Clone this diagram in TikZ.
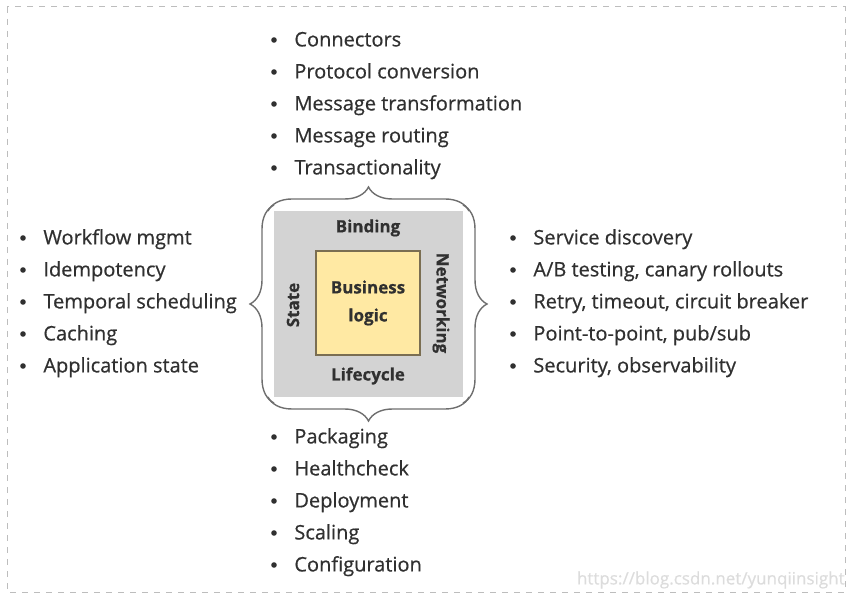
\documentclass[tikz,border=0pt]{standalone}
\usepackage{fontspec}
\setmainfont{Open Sans}[RawFeature={embolden=0.6}]
\usetikzlibrary{decorations.pathreplacing}

\definecolor{txtgray}{HTML}{303030}
\definecolor{bracegray}{HTML}{6E6E6E}
\definecolor{layergray}{HTML}{D3D3D3}
\definecolor{logicyellow}{HTML}{FFE9A3}
\definecolor{logicedge}{HTML}{7A6E52}
\definecolor{framegray}{HTML}{BDBDBD}
\definecolor{markgray}{HTML}{DCDCDC}

\tikzset{
  listitem/.style={anchor=west, inner sep=0pt, text=txtgray,
    font=\fontsize{10}{12}\selectfont, text height=1.5ex, text depth=.3ex},
  bulletmark/.style={circle, fill=txtgray, inner sep=0pt, minimum size=2.8pt},
  layerlabel/.style={inner sep=0pt, text=txtgray, font=\bfseries\fontsize{8.5}{10}\selectfont},
  bracket/.style={draw=bracegray, line width=0.7pt, decorate,
    decoration={brace, amplitude=12pt}},
}

\begin{document}
\begin{tikzpicture}[x=0.5pt,y=-0.5pt]
\useasboundingbox (0,0) rectangle (854,603);
\draw[framegray, dashed, line width=0.5pt] (7,7) rectangle (845,592);

% layers
\fill[layergray] (274,211) rectangle (463,397);
\node[draw=logicedge, fill=logicyellow, line width=0.6pt, minimum width=52pt,
  minimum height=52pt, inner sep=0pt] (logic) at (368,303) {};
\node[layerlabel, align=center] (logictxt) at (logic.center)
  {Business\\[4pt]logic};
\node[layerlabel] (binding) at (368,228) {Binding};
\node[layerlabel] (lifecycle) at (368,376) {Lifecycle};
\node[layerlabel, rotate=90] (state) at (293,305) {State};
\node[layerlabel, rotate=-90] (networking) at (441,303) {Networking};

% braces
\draw[bracket] (268,211) -- (469,211);
\draw[bracket] (274,403) -- (274,205);
\draw[bracket] (463,205) -- (463,403);
\draw[bracket] (469,397) -- (268,397);

% lists
\foreach \txt [count=\i] in {Connectors, Protocol conversion,
    Message transformation, Message routing, Transactionality}{
  \node[bulletmark] at (274,8+32*\i) {};
  \node[listitem] (top-\i) at (294,8+32*\i) {\txt};
}
\foreach \txt [count=\i] in {Workflow mgmt, Idempotency,
    Temporal scheduling, Caching, Application state}{
  \node[bulletmark] at (23,206+32*\i) {};
  \node[listitem] (left-\i) at (43,206+32*\i) {\txt};
}
\foreach \txt [count=\i] in {Service discovery, {A/B testing, canary rollouts},
    {Retry, timeout, circuit breaker}, {Point-to-point, pub/sub},
    {Security, observability}}{
  \node[bulletmark] at (513,206+32*\i) {};
  \node[listitem] (right-\i) at (533,206+32*\i) {\txt};
}
\foreach \txt [count=\i] in {Packaging, Healthcheck,
    Deployment, Scaling, Configuration}{
  \node[bulletmark] at (274,405+32*\i) {};
  \node[listitem] (bottom-\i) at (294,405+32*\i) {\txt};
}

\node[anchor=east, inner sep=0pt, text=markgray, font=\fontsize{8.5}{10}\selectfont]
  (mark) at (845,580) {https://blog.csdn.net/yunqiinsight};
\end{tikzpicture}
\end{document}
